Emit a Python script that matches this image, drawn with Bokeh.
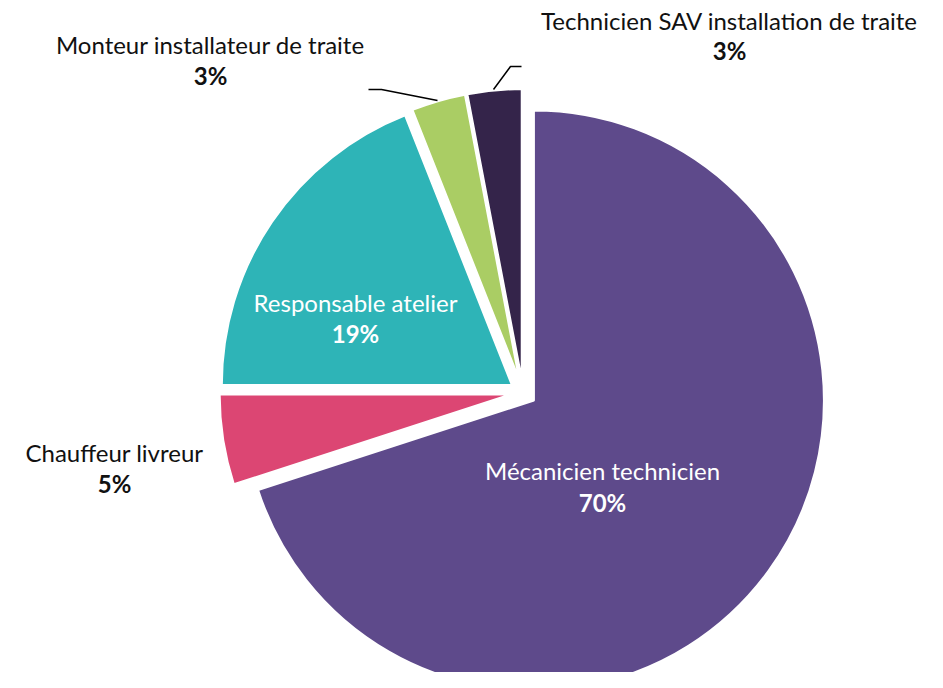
import numpy as np
from bokeh.plotting import figure
from bokeh.models import Range1d
from bokeh.embed import file_html
from bokeh.resources import INLINE
from bokeh.core.properties import value

# ---- data ----
categories = ["Mécanicien technicien", "Chauffeur livreur", "Responsable atelier",
              "Monteur installateur de traite", "Technicien SAV installation de traite"]
shares = [70, 5, 19, 3, 3]
colors = ["#5E4A8B", "#DC4673", "#2EB4B7", "#AACD64", "#34244A"]

# ---- layout (reference pixel coordinates) ----
W, H = 943, 688
FW, FH = 927, 672
def Y(py):
    return H - py

cx, cy = 522.5, Y(392)
R = 290
explode = 13.5

# label centres: (x, y of name, y of percent)
label_pos = [(602, 470, 502), (114, 452, 483), (355, 302, 333), (210, 44, 75), (729, 20, 50)]
label_colors = ["white", "#111111", "white", "#111111", "#111111"]
leaders = [[(368, 89), (381, 89), (437, 100)], [(493, 89), (510, 66), (521, 66)]]

p = figure(width=FW, height=FH, x_range=Range1d(0, FW), y_range=Range1d(Y(FH), Y(0)),
           output_backend="svg", toolbar_location=None, min_border=0)
p.axis.visible = False
p.grid.visible = False
p.outline_line_color = None

total = sum(shares)
cum = np.concatenate([[0], np.cumsum(shares)])
end_ang = np.radians(90 - 360 * cum[:-1] / total)
start_ang = np.radians(90 - 360 * cum[1:] / total)
mid = (start_ang + end_ang) / 2
xs = cx + explode * np.cos(mid)
ys = cy + explode * np.sin(mid)

p.wedge(x=xs, y=ys, radius=R, start_angle=start_ang, end_angle=end_ang,
        direction="anticlock", fill_color=colors, line_color="white", line_width=2)

p.multi_line(xs=[[a for a, b in l] for l in leaders], ys=[[Y(b) for a, b in l] for l in leaders],
             line_color="black", line_width=1.5)

lx = [a for a, b, c in label_pos]
p.text(x=lx, y=[Y(b) for a, b, c in label_pos], text=categories,
       text_font=value("Lato"), text_font_size="24px", text_align="center",
       text_baseline="middle", text_color=label_colors)
p.text(x=lx, y=[Y(c) for a, b, c in label_pos], text=[f"{s}%" for s in shares],
       text_font=value("Lato"), text_font_size="24px", text_font_style="bold",
       text_align="center", text_baseline="middle", text_color=label_colors)

open("out.html", "w").write(file_html(p, INLINE))
